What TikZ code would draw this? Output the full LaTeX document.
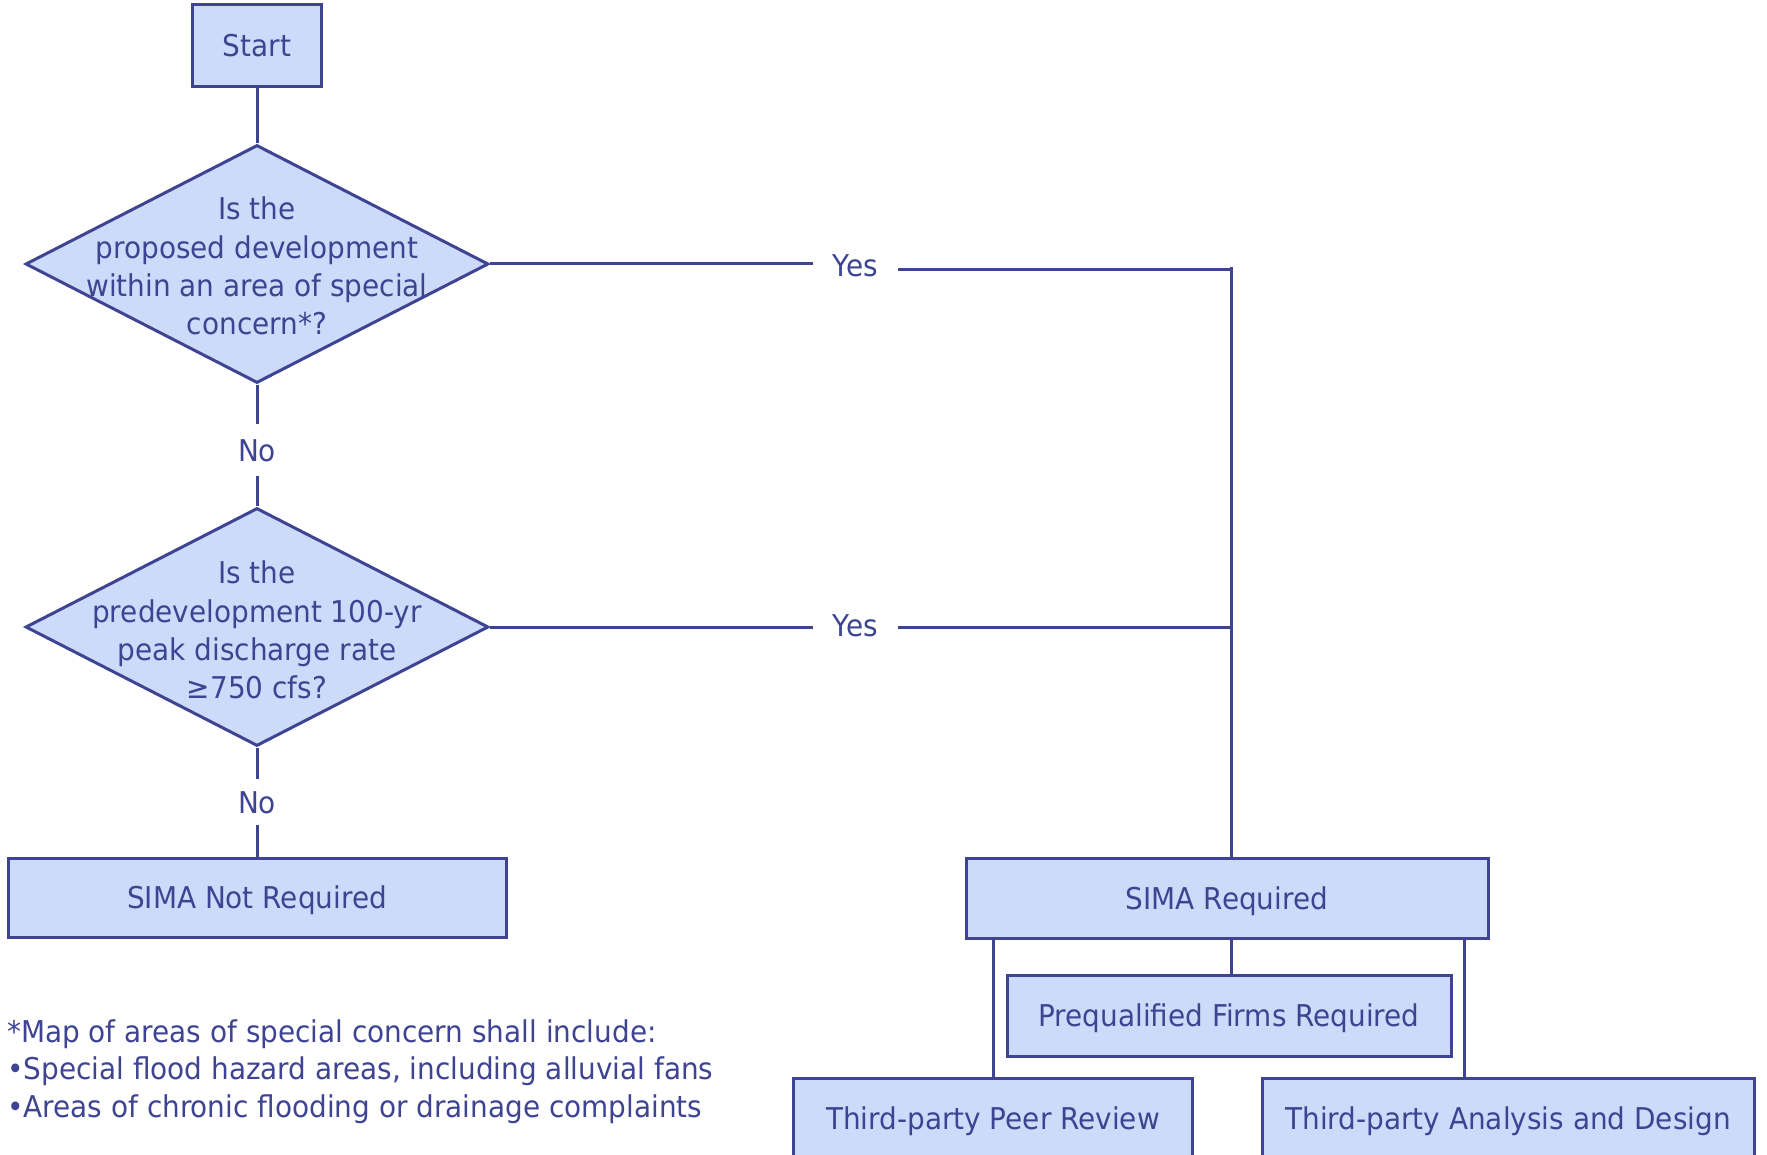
\documentclass[tikz,border=0pt]{standalone}
\usepackage{fontspec}
\setmainfont{DejaVu Sans}[FakeStretch=0.93]
\usetikzlibrary{shapes.geometric}
\definecolor{fillc}{RGB}{205,218,250}
\definecolor{linec}{RGB}{62,68,146}
\begin{document}
\begin{tikzpicture}[x=1pt,y=-1pt,
  every node/.style={text=linec, font=\fontsize{30}{38.3}\selectfont},
  box/.style={draw=linec, fill=fillc, line width=3pt, rectangle, inner sep=0pt, text height=22pt, text depth=0pt},
  conn/.style={draw=linec, line width=3pt},
  dec/.style={diamond, draw=linec, fill=fillc, line width=3pt, inner sep=0pt, minimum width=463pt, minimum height=238pt},
  lab/.style={inner sep=0pt, text height=22pt, text depth=0pt},
  foot/.style={anchor=base west, inner sep=0pt}]
\useasboundingbox (0,0) rectangle (1767,1155);

\node[box, minimum width=129pt, minimum height=82pt] (start) at (257,46) {Start};
\node[dec] (d1) at (257,264) {};
\node[align=center, inner sep=0pt] (t1) at (257,266) {Is the\\proposed development\\within an area of special\\concern*?};
\node[dec] (d2) at (257,627) {};
\node[align=center, inner sep=0pt] (t2) at (257,630) {Is the\\predevelopment 100-yr\\peak discharge rate\\≥750 cfs?};

\node[lab, inner ysep=14.5pt] (no1) at (257,450) {No};
\node[lab, inner ysep=12pt] (no2) at (257,802) {No};
\node[lab, minimum width=85pt] (yes1) at (855.5,265.5) {Yes};
\node[lab, minimum width=85pt] (yes2) at (855.5,625) {Yes};
\coordinate (j1) at (1231,270);
\coordinate (j2) at (1231,627);
\coordinate (rl) at (1464,1000);

\node[box, minimum width=498pt, minimum height=79pt] (notreq) at (257,897.5) {SIMA Not Required};
\node[box, minimum width=522pt, minimum height=80pt] (req) at (1227,898) {SIMA Required};
\node[box, minimum width=444pt, minimum height=81pt] (pq) at (1229,1015.5) {Prequalified Firms Required};
\node[box, minimum width=399pt, minimum height=80pt] (peer) at (993,1118) {Third-party Peer Review};
\node[box, minimum width=492pt, minimum height=80pt] (ana) at (1508,1118) {Third-party Analysis and Design};

\node[foot] (f1) at (7,1042) {*Map of areas of special concern shall include:};
\node[foot] (f2) at (7,1079.5) {•Special flood hazard areas, including alluvial fans};
\node[foot] (f3) at (7,1117) {•Areas of chronic flooding or drainage complaints};

\draw[conn] (start) -- (d1);
\draw[conn] (d1) -- (no1);
\draw[conn] (no1) -- (d2);
\draw[conn] (d2) -- (no2);
\draw[conn] (no2) -- (notreq);
\draw[conn] (d1.east) -- (d1.east -| yes1.west);
\draw[conn] ([yshift=-4.5pt]yes1.east) -- (j1);
\draw[conn] (d2.east) -- (d2.east -| yes2.west);
\draw[conn] (d2.east -| yes2.east) -- (j2);
\draw[conn] ([yshift=3pt]j1) -- (j1 |- req.north);
\draw[conn] (j1 |- req.south) -- (j1 |- pq.north);
\draw[conn] (peer.north |- req.south) -- (peer.north);
\draw[conn] (rl |- req.south) -- (rl |- ana.north);
\end{tikzpicture}
\end{document}
